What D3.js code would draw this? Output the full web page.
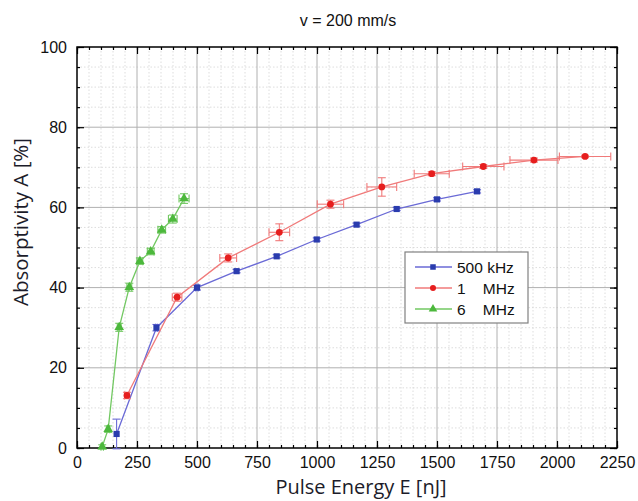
<!DOCTYPE html>
<html><head><meta charset="utf-8">
<script src="https://cdn.jsdelivr.net/npm/d3@7"></script>
<style>body{margin:0;background:#fff}svg{display:block}</style>
</head><body>
<svg id="chart" width="638" height="501"></svg>
<script>
// ---- data ----
const xTicks = [0,250,500,750,1000,1250,1500,1750,2000,2250];
const yTicks = [0,20,40,60,80,100];
const seriesNames = ["500 kHz","1    MHz","6    MHz"];

const blueX  = [165,331,500,665,832,999,1165,1332,1500,1667];
const blueY  = [3.5,30.0,40.0,44.1,47.8,52.0,55.7,59.6,62.0,64.0];
const blueEX = [0,4,5,0,0,0,0,0,0,0];
const blueEY = [3.7,0.8,0.6,0.4,0.4,0.4,0.4,0.4,0.4,0.4];

const redX  = [208,417,630,843,1056,1270,1478,1693,1904,2117];
const redY  = [13.1,37.6,47.4,53.8,60.8,65.1,68.4,70.2,71.8,72.7];
const redEX = [10,20,35,43,55,62,73,86,100,107];
const redEY = [0.8,1.0,1.0,2.1,1.0,2.3,0.5,0.5,0.5,0.3];

const greenX  = [105,130,176,218,262,307,353,399,446];
const greenY  = [0.3,4.7,30.1,40.1,46.6,49.0,54.4,57.1,62.2];
const greenEX = [5,6,8,10,12,14,16,18,21];
const greenEY = [0.5,0.8,1.0,1.0,0.8,0.8,0.8,1.0,1.2];

// ---- layout ----
const W = 638, H = 501;
const m = {left:77, right:21, top:47, bottom:53};
const svg = d3.select("#chart");
const x = d3.scaleLinear().domain([0,2250]).range([m.left, W-m.right]);
const y = d3.scaleLinear().domain([0,100]).range([H-m.bottom, m.top]);
const x0 = m.left, x1 = W-m.right, y0 = H-m.bottom, y1 = m.top;

// minor grid
const xMinor = d3.range(0,2251,50), yMinor = d3.range(0,101,5);
svg.append("g").selectAll("line").data(xMinor.filter(v=>v%250!==0)).join("line")
  .attr("x1",d=>x(d)).attr("x2",d=>x(d)).attr("y1",y0).attr("y2",y1)
  .attr("stroke","#d4d4d4").attr("stroke-width",0.8).attr("stroke-dasharray","1.5,2");
svg.append("g").selectAll("line").data(yMinor.filter(v=>v%20!==0)).join("line")
  .attr("y1",d=>y(d)).attr("y2",d=>y(d)).attr("x1",x0).attr("x2",x1)
  .attr("stroke","#d4d4d4").attr("stroke-width",0.8).attr("stroke-dasharray","1.5,2");
// major grid
svg.append("g").selectAll("line").data(xTicks.slice(1,-1)).join("line")
  .attr("x1",d=>x(d)).attr("x2",d=>x(d)).attr("y1",y0).attr("y2",y1)
  .attr("stroke","#b0b0b0").attr("stroke-width",1);
svg.append("g").selectAll("line").data(yTicks.slice(1,-1)).join("line")
  .attr("y1",d=>y(d)).attr("y2",d=>y(d)).attr("x1",x0).attr("x2",x1)
  .attr("stroke","#b0b0b0").attr("stroke-width",1);

// axes with inward ticks
const fnt = "'Liberation Sans', Arial, sans-serif";
function styleAxis(g){ g.select(".domain").remove(); g.selectAll("line").attr("stroke","#000").attr("stroke-width",1.2); }
svg.append("g").attr("transform",`translate(0,${y0})`)
  .call(d3.axisBottom(x).tickValues(xMinor).tickSize(-3).tickFormat(""))
  .call(styleAxis);
svg.append("g").attr("transform",`translate(0,${y0})`)
  .call(d3.axisBottom(x).tickValues(xTicks).tickSize(-7).tickPadding(9).tickFormat(d3.format("d")))
  .call(styleAxis)
  .call(g=>g.selectAll("text").attr("font-family",fnt).attr("font-size",16).attr("fill","#111"));
svg.append("g").attr("transform",`translate(0,${y1})`)
  .call(d3.axisTop(x).tickValues(xMinor).tickSize(-3).tickFormat("")).call(styleAxis);
svg.append("g").attr("transform",`translate(0,${y1})`)
  .call(d3.axisTop(x).tickValues(xTicks).tickSize(-7).tickFormat("")).call(styleAxis);
svg.append("g").attr("transform",`translate(${x0},0)`)
  .call(d3.axisLeft(y).tickValues(yMinor).tickSize(-3).tickFormat("")).call(styleAxis);
svg.append("g").attr("transform",`translate(${x0},0)`)
  .call(d3.axisLeft(y).tickValues(yTicks).tickSize(-7).tickPadding(10).tickFormat(d3.format("d")))
  .call(styleAxis)
  .call(g=>g.selectAll("text").attr("font-family",fnt).attr("font-size",16).attr("fill","#111"));
svg.append("g").attr("transform",`translate(${x1},0)`)
  .call(d3.axisRight(y).tickValues(yMinor).tickSize(-3).tickFormat("")).call(styleAxis);
svg.append("g").attr("transform",`translate(${x1},0)`)
  .call(d3.axisRight(y).tickValues(yTicks).tickSize(-7).tickFormat("")).call(styleAxis);

// frame
svg.append("rect").attr("x",x0).attr("y",y1).attr("width",x1-x0).attr("height",y0-y1)
  .attr("fill","none").attr("stroke","#000").attr("stroke-width",1.5);

// series
const series = [
  {name:seriesNames[0], xs:blueX, ys:blueY, ex:blueEX, ey:blueEY, line:"#6a6ad6", mark:"#2a3cae", sym:d3.symbolSquare, size:38},
  {name:seriesNames[1], xs:redX, ys:redY, ex:redEX, ey:redEY, line:"#f07a7a", mark:"#e61e1e", sym:d3.symbolCircle, size:36},
  {name:seriesNames[2], xs:greenX, ys:greenY, ex:greenEX, ey:greenEY, line:"#72c862", mark:"#4cb83c", sym:d3.symbolTriangle, size:40}
];
const line = d3.line().x(d=>x(d[0])).y(d=>y(d[1]));
series.forEach(s=>{
  const pts = s.xs.map((v,i)=>[v,s.ys[i],s.ex[i],s.ey[i]]);
  const g = svg.append("g");
  g.append("path").datum(pts).attr("d",line).attr("fill","none").attr("stroke",s.line).attr("stroke-width",1.3);
  // error bars
  const eb = g.append("g").attr("stroke",s.line).attr("stroke-width",1.1);
  pts.forEach(p=>{
    if(p[2]>0){
      eb.append("line").attr("x1",x(p[0]-p[2])).attr("x2",x(p[0]+p[2])).attr("y1",y(p[1])).attr("y2",y(p[1]));
      [p[0]-p[2],p[0]+p[2]].forEach(v=>eb.append("line").attr("x1",x(v)).attr("x2",x(v)).attr("y1",y(p[1])-4).attr("y2",y(p[1])+4));
    }
    if(p[3]>0){
      eb.append("line").attr("x1",x(p[0])).attr("x2",x(p[0])).attr("y1",y(p[1]-p[3])).attr("y2",y(p[1]+p[3]));
      [p[1]-p[3],p[1]+p[3]].forEach(v=>eb.append("line").attr("x1",x(p[0])-4).attr("x2",x(p[0])+4).attr("y1",y(v)).attr("y2",y(v)));
    }
  });
  g.selectAll(".m").data(pts).join("path")
    .attr("transform",d=>`translate(${x(d[0])},${y(d[1])})`)
    .attr("d",d3.symbol().type(s.sym).size(s.size)).attr("fill",s.mark);
});

// legend
const lg = svg.append("g").attr("transform","translate(405,252)");
lg.append("rect").attr("width",123).attr("height",71).attr("fill","#fff").attr("stroke","#808080").attr("stroke-width",1.2);
series.forEach((s,i)=>{
  const yy = 15 + i*21;
  lg.append("line").attr("x1",10).attr("x2",47).attr("y1",yy).attr("y2",yy).attr("stroke",s.line).attr("stroke-width",1.3);
  lg.append("path").attr("transform",`translate(28,${yy})`).attr("d",d3.symbol().type(s.sym).size(s.size*0.8)).attr("fill",s.mark);
  lg.append("text").attr("x",52).attr("y",yy+5.5).text(s.name)
    .attr("font-family",fnt).attr("font-size",15.5).attr("fill","#111").style("white-space","pre");
});

// titles
svg.append("text").attr("x",348).attr("y",26).attr("text-anchor","middle")
  .attr("font-family",fnt).attr("font-size",16).attr("fill","#111").text("v = 200 mm/s");
svg.append("text").attr("x",361).attr("y",494).attr("text-anchor","middle")
  .attr("font-family","'Open Sans','Noto Sans',sans-serif").attr("font-size",20).attr("fill","#1c1c2a")
  .text("Pulse Energy E [nJ]");
svg.append("text").attr("transform","translate(28,222) rotate(-90)").attr("text-anchor","middle")
  .attr("font-family","'Open Sans','Noto Sans',sans-serif").attr("font-size",20.5).attr("fill","#1c1c2a")
  .text("Absorptivity A [%]");
</script>
</body></html>
